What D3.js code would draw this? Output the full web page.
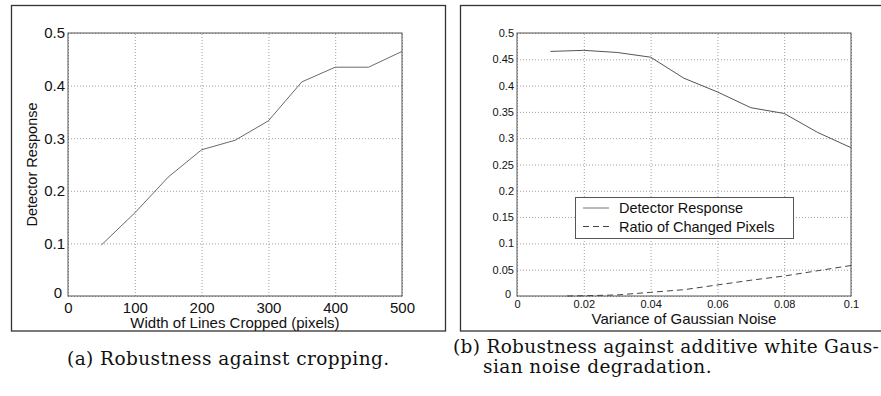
<!DOCTYPE html>
<html>
<head>
<meta charset="utf-8">
<script src="https://cdn.jsdelivr.net/npm/d3@7"></script>
<style>
  body { margin: 0; background: #fff; }
  svg { display: block; }
  .tick text { fill: #111; }
</style>
</head>
<body>
<div id="chart"></div>
<script>
// panel (a): cropping
var cropWidths = [50, 100, 150, 200, 250, 300, 350, 400, 450, 500];
var cropResponse = [0.097, 0.158, 0.226, 0.278, 0.296, 0.333, 0.407, 0.435, 0.435, 0.465];
var cropXTicks = [0, 100, 200, 300, 400, 500];
var cropYTicks = [0, 0.1, 0.2, 0.3, 0.4, 0.5];

// panel (b): gaussian noise
var noiseVar = [0.01, 0.02, 0.03, 0.04, 0.05, 0.06, 0.07, 0.08, 0.09, 0.1];
var noiseResponse = [0.465, 0.467, 0.463, 0.454, 0.414, 0.388, 0.358, 0.347, 0.311, 0.282];
var ratioVar = [0.015, 0.02, 0.03, 0.04, 0.05, 0.06, 0.07, 0.08, 0.09, 0.1];
var ratioChanged = [0, 0.0005, 0.002, 0.007, 0.012, 0.021, 0.030, 0.038, 0.048, 0.058];
var noiseXTicks = [0, 0.02, 0.04, 0.06, 0.08, 0.1];
var noiseYTicks = [0, 0.05, 0.1, 0.15, 0.2, 0.25, 0.3, 0.35, 0.4, 0.45, 0.5];
var legendLabels = ["Detector Response", "Ratio of Changed Pixels"];

var width = 881, height = 396;
var sans = "'Liberation Sans', Arial, sans-serif";
var serif = "'DejaVu Serif', serif";

var svg = d3.select("#chart").append("svg")
    .attr("width", width)
    .attr("height", height);

svg.append("rect").attr("width", width).attr("height", height).attr("fill", "#fff");

// outer frames of the two figures
svg.append("rect")
    .attr("x", 11.5).attr("y", 5.5).attr("width", 434).attr("height", 325.5)
    .attr("fill", "none").attr("stroke", "#333").attr("stroke-width", 1.3);
svg.append("rect")
    .attr("x", 460.5).attr("y", 5.5).attr("width", 440).attr("height", 325.5)
    .attr("fill", "none").attr("stroke", "#333").attr("stroke-width", 1.3);

function drawPanel(opt) {
    var x = d3.scaleLinear().domain(opt.xDomain).range([opt.left, opt.right]);
    var y = d3.scaleLinear().domain([0, 0.5]).range([opt.bottom, opt.top]);
    var g = svg.append("g");

    // dotted grid
    g.append("g")
        .attr("transform", "translate(0," + opt.bottom + ")")
        .call(d3.axisBottom(x).tickValues(opt.xTicks).tickSize(-(opt.bottom - opt.top)).tickFormat(""))
        .call(function (s) {
            s.select(".domain").remove();
            s.selectAll("line").attr("stroke", "#888").attr("stroke-width", 0.8).attr("stroke-dasharray", "1,2");
        });
    g.append("g")
        .attr("transform", "translate(" + opt.left + ",0)")
        .call(d3.axisLeft(y).tickValues(opt.yTicks).tickSize(-(opt.right - opt.left)).tickFormat(""))
        .call(function (s) {
            s.select(".domain").remove();
            s.selectAll("line").attr("stroke", "#888").attr("stroke-width", 0.8).attr("stroke-dasharray", "1,2");
        });

    // box
    g.append("rect")
        .attr("x", opt.left).attr("y", opt.top)
        .attr("width", opt.right - opt.left).attr("height", opt.bottom - opt.top)
        .attr("fill", "none").attr("stroke", "#555").attr("stroke-width", 1);

    // tick labels
    var xa = g.append("g")
        .attr("transform", "translate(0," + opt.bottom + ")")
        .call(d3.axisBottom(x).tickValues(opt.xTicks).tickSize(0).tickPadding(opt.xPad).tickFormat(d3.format("")));
    xa.select(".domain").remove();
    xa.selectAll("text").attr("font-family", sans).attr("font-size", opt.tickSize);

    var ya = g.append("g")
        .attr("transform", "translate(" + opt.left + ",0)")
        .call(d3.axisLeft(y).tickValues(opt.yTicks).tickSize(0).tickPadding(3).tickFormat(d3.format("")));
    ya.select(".domain").remove();
    ya.selectAll("text").attr("font-family", sans).attr("font-size", opt.tickSize);
    // matlab-style origin label sits up and to the left
    ya.selectAll(".tick").filter(function (d) { return d === 0; })
        .select("text").attr("dx", -3).attr("dy", "0.1em");

    // x label
    g.append("text")
        .attr("x", (opt.left + opt.right) / 2).attr("y", opt.xLabelY)
        .attr("text-anchor", "middle").attr("font-family", sans)
        .attr("font-size", opt.labelSize).attr("fill", "#111")
        .text(opt.xLabel);

    return {x: x, y: y, g: g};
}

// ---- panel (a)
var a = drawPanel({
    left: 68, right: 402, top: 33, bottom: 296,
    xDomain: [0, 500], xTicks: cropXTicks, yTicks: cropYTicks,
    tickSize: 15, labelSize: 15, xPad: 6, xLabelY: 328,
    xLabel: "Width of Lines Cropped (pixels)"
});
a.g.append("text")
    .attr("transform", "translate(37," + (33 + 296) / 2 + ") rotate(-90)")
    .attr("text-anchor", "middle").attr("font-family", sans)
    .attr("font-size", 14.5).attr("fill", "#111")
    .text("Detector Response");

var lineA = d3.line().x(function (d, i) { return a.x(cropWidths[i]); }).y(function (d) { return a.y(d); });
a.g.append("path")
    .datum(cropResponse)
    .attr("d", lineA)
    .attr("fill", "none").attr("stroke", "#6a6a6a").attr("stroke-width", 1);

// ---- panel (b)
var b = drawPanel({
    left: 517, right: 851, top: 33, bottom: 296,
    xDomain: [0, 0.1], xTicks: noiseXTicks, yTicks: noiseYTicks,
    tickSize: 11, labelSize: 15, xPad: 4, xLabelY: 324,
    xLabel: "Variance of Gaussian Noise"
});

var lineResp = d3.line().x(function (d, i) { return b.x(noiseVar[i]); }).y(function (d) { return b.y(d); });
var lineRatio = d3.line().x(function (d, i) { return b.x(ratioVar[i]); }).y(function (d) { return b.y(d); });

b.g.append("path")
    .datum(noiseResponse)
    .attr("d", lineResp)
    .attr("fill", "none").attr("stroke", "#555").attr("stroke-width", 1);
b.g.append("path")
    .datum(ratioChanged)
    .attr("d", lineRatio)
    .attr("fill", "none").attr("stroke", "#444").attr("stroke-width", 1)
    .attr("stroke-dasharray", "6,4");

// legend
var leg = b.g.append("g").attr("transform", "translate(575,197)");
leg.append("rect")
    .attr("x", 0.5).attr("y", 0.5).attr("width", 218).attr("height", 41)
    .attr("fill", "#fff").attr("stroke", "#555").attr("stroke-width", 1);
legendLabels.forEach(function (lab, i) {
    var yy = 11 + i * 18.5;
    leg.append("line")
        .attr("x1", 8).attr("x2", 34).attr("y1", yy).attr("y2", yy)
        .attr("stroke", i === 0 ? "#777" : "#444").attr("stroke-width", 1)
        .attr("stroke-dasharray", i === 0 ? null : "6,4");
    leg.append("text")
        .attr("x", 44).attr("y", yy).attr("dy", "0.35em")
        .attr("font-family", sans).attr("font-size", 14.5).attr("fill", "#111")
        .text(lab);
});

// captions (computer-modern look: wide serif, stretched a little)
var capSize = 18.5;
var capA = svg.append("text")
    .attr("x", 67).attr("y", 365)
    .attr("font-family", serif).attr("font-size", capSize).attr("fill", "#111")
    .text("(a)  Robustness against cropping.");
var natural = capA.node().getComputedTextLength();
var nChars = capA.text().length;
var spacing = (323 - natural) / nChars;
capA.attr("letter-spacing", spacing);

var capB1 = svg.append("text")
    .attr("x", 453).attr("y", 353)
    .attr("font-family", serif).attr("font-size", capSize).attr("fill", "#111")
    .attr("letter-spacing", spacing)
    .text("(b)  Robustness against additive white Gaus-");
// keep the first line just inside the right edge
var b1len = capB1.node().getComputedTextLength();
if (453 + b1len > width - 2) {
    capB1.attr("letter-spacing", spacing - (453 + b1len - (width - 2)) / capB1.text().length);
}
svg.append("text")
    .attr("x", 483).attr("y", 373)
    .attr("font-family", serif).attr("font-size", capSize).attr("fill", "#111")
    .attr("letter-spacing", spacing)
    .text("sian noise degradation.");
</script>
</body>
</html>
